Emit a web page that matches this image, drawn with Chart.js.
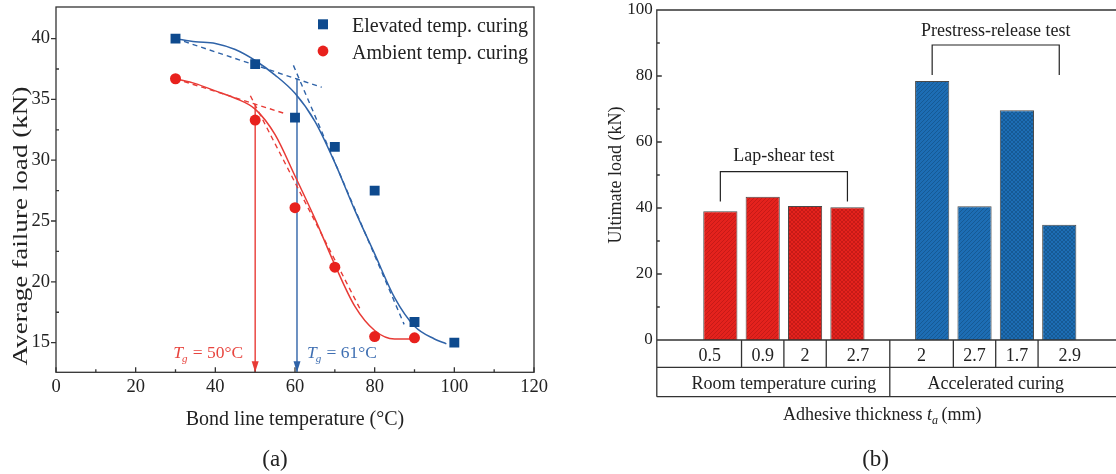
<!DOCTYPE html>
<html>
<head>
<meta charset="utf-8">
<script src="https://cdn.jsdelivr.net/npm/chart.js@4/dist/chart.umd.min.js"></script>
<style>
html,body{margin:0;padding:0;background:#fff;}
body{width:1116px;height:474px;overflow:hidden;position:relative;}
#ca{position:absolute;left:0;top:0;}
#cb{position:absolute;left:560px;top:0;}
</style>
</head>
<body>
<canvas id="ca" width="560" height="474"></canvas>
<canvas id="cb" width="580" height="474"></canvas>
<script>
// ---------- Panel (a) data ----------
const tempElev = [30, 50, 60, 70, 80, 90, 100];
const loadElev = [40.0, 37.9, 33.5, 31.1, 27.5, 16.7, 15.0];
const tempAmb = [30, 50, 60, 70, 80, 90];
const loadAmb = [36.7, 33.3, 26.1, 21.2, 15.5, 15.4];
const fitElevT = [30, 35, 40, 45, 50, 55, 60, 65, 70, 75, 80, 85, 90, 95, 98];
const fitElevV = [40.0, 39.75, 39.6, 39.1, 38.2, 37.0, 35.5, 33.2, 29.8, 25.9, 22.3, 18.7, 16.35, 15.3, 14.9];
const fitAmbT = [30, 35, 40, 45, 50, 55, 60, 65, 70, 75, 80, 85, 90];
const fitAmbV = [36.7, 36.3, 35.7, 35.1, 34.2, 32.1, 28.7, 25.2, 21.4, 18.0, 16.0, 15.3, 15.3];
const tanElev1T = [30, 66.7], tanElev1V = [40.0, 36.0];
const tanElev2T = [59.6, 87.4], tanElev2V = [37.8, 16.5];
const tanAmb1T = [30, 57.8], tanAmb1V = [36.7, 33.8];
const tanAmb2T = [48.8, 76.6], tanAmb2V = [35.3, 17.6];
const tgTemps = [50, 60.5];
const tgTop = [34.6, 36.7];
const tgLabels = ['50', '61'];
const xTicksA = [0, 20, 40, 60, 80, 100, 120];
const yTicksA = [15, 20, 25, 30, 35, 40];
const xRangeA = [0, 120];
const yRangeA = [12.56, 42.6];
const legendA = ['Elevated temp. curing', 'Ambient temp. curing'];

// ---------- Panel (b) data ----------
const groupNames = ['Room temperature curing', 'Accelerated curing'];
const thickRoom = ['0.5', '0.9', '2', '2.7'];
const loadRoom = [39.0, 43.4, 40.6, 40.2];
const hatchRoom = ['diag', 'diag', 'cross', 'cross'];
const thickAcc = ['2', '2.7', '1.7', '2.9'];
const loadAcc = [78.5, 40.5, 69.6, 34.9];
const hatchAcc = ['diag', 'diag', 'cross', 'cross'];
const yTicksB = [0, 20, 40, 60, 80, 100];
const bracketNames = ['Lap-shear test', 'Prestress-release test'];
const bracketLevel = [51, 89.4];
const bracketLeg = [42, 80.3];
const bracketTextLevel = [56, 94];

const SERIF = "'Liberation Serif','Times New Roman',serif";
const BLUE_PT = '#0e4a8e', BLUE_LN = '#2f63a8', RED_PT = '#e8211d', RED_LN = '#e83b36';
const AX = '#333';

function xy(xs, ys) { return xs.map((v, i) => ({x: v, y: ys[i]})); }

// ================= Panel (a) =================
const decoA = {
  id: 'decoA',
  afterDraw(chart) {
    const {ctx, chartArea: a, scales: {x, y}} = chart;
    ctx.save();
    ctx.strokeStyle = AX; ctx.lineWidth = 1.3;
    ctx.strokeRect(a.left, a.top, a.right - a.left, a.bottom - a.top);
    ctx.beginPath();
    xTicksA.forEach((v, i) => {
      const px = x.getPixelForValue(v);
      ctx.moveTo(px, a.bottom); ctx.lineTo(px, a.bottom - 5);
      if (i < xTicksA.length - 1) {
        const pm = x.getPixelForValue((v + xTicksA[i + 1]) / 2);
        ctx.moveTo(pm, a.bottom); ctx.lineTo(pm, a.bottom - 3);
      }
    });
    yTicksA.forEach((v, i) => {
      const py = y.getPixelForValue(v);
      ctx.moveTo(a.left, py); ctx.lineTo(a.left - 5, py);
      if (i < yTicksA.length - 1) {
        const pm = y.getPixelForValue((v + yTicksA[i + 1]) / 2);
        ctx.moveTo(a.left, pm); ctx.lineTo(a.left + 3, pm);
      }
    });
    ctx.stroke();

    // arrowheads + Tg labels
    const cols = [RED_LN, BLUE_LN];
    const txtCols = ['#e8453f', '#3f6fb2'];
    tgTemps.forEach((t, i) => {
      const px = x.getPixelForValue(t);
      ctx.fillStyle = cols[i];
      ctx.beginPath();
      ctx.moveTo(px, a.bottom);
      ctx.lineTo(px - 3.5, a.bottom - 11);
      ctx.lineTo(px + 3.5, a.bottom - 11);
      ctx.closePath(); ctx.fill();
      const base = 358.3;
      ctx.fillStyle = txtCols[i];
      ctx.textBaseline = 'alphabetic'; ctx.textAlign = 'left';
      const fT = 'italic 17.5px ' + SERIF, fS = 'italic 11px ' + SERIF, fN = '17.5px ' + SERIF;
      const rest = ' = ' + tgLabels[i] + '\u00B0C';
      ctx.font = fT; const wT = ctx.measureText('T').width;
      ctx.font = fS; const wS = ctx.measureText('g').width;
      ctx.font = fN; const wR = ctx.measureText(rest).width;
      const total = wT + wS + wR;
      let sx = i === 0 ? px - 12 - total : px + 10;
      ctx.font = fT; ctx.fillText('T', sx, base); sx += wT - 1;
      ctx.font = fS; ctx.fillText('g', sx, base + 4); sx += wS + 1;
      ctx.font = fN; ctx.fillText(rest, sx, base);
    });

    // legend
    ctx.fillStyle = BLUE_PT;
    ctx.fillRect(318, 19.3, 10, 10);
    ctx.fillStyle = RED_PT;
    ctx.beginPath(); ctx.arc(323, 51, 5.4, 0, Math.PI * 2); ctx.fill();
    ctx.fillStyle = '#222';
    ctx.font = '20px ' + SERIF; ctx.textAlign = 'left'; ctx.textBaseline = 'alphabetic';
    ctx.fillText(legendA[0], 352, 32.3);
    ctx.fillText(legendA[1], 352, 58.5);

    // x title
    ctx.textAlign = 'center';
    ctx.fillText('Bond line temperature (\u00B0C)', (a.left + a.right) / 2, 424.5);

    // y title
    ctx.save();
    ctx.translate(27, 226);
    ctx.rotate(-Math.PI / 2);
    ctx.font = '22px ' + SERIF;
    const yt = 'Average failure load (kN)';
    const w = ctx.measureText(yt).width;
    ctx.scale(279 / w, 1);
    ctx.textAlign = 'center';
    ctx.fillText(yt, 0, 0);
    ctx.restore();

    // caption
    ctx.font = '23px ' + SERIF; ctx.textAlign = 'center';
    ctx.fillText('(a)', 275, 466);
    ctx.restore();
  }
};

const dashA = [5, 4];
new Chart(document.getElementById('ca'), {
  type: 'scatter',
  data: {
    datasets: [
      {label: legendA[0], data: xy(tempElev, loadElev), pointStyle: 'rect', pointRadius: 7, backgroundColor: BLUE_PT, borderWidth: 0, showLine: false},
      {label: legendA[1], data: xy(tempAmb, loadAmb), pointStyle: 'circle', pointRadius: 5.5, backgroundColor: RED_PT, borderWidth: 0, showLine: false},
      {data: xy(fitElevT, fitElevV), showLine: true, pointRadius: 0, borderColor: BLUE_LN, borderWidth: 1.5, cubicInterpolationMode: 'monotone'},
      {data: xy(fitAmbT, fitAmbV), showLine: true, pointRadius: 0, borderColor: RED_LN, borderWidth: 1.5, cubicInterpolationMode: 'monotone'},
      {data: xy(tanElev1T, tanElev1V), showLine: true, pointRadius: 0, borderColor: BLUE_LN, borderWidth: 1.4, borderDash: dashA},
      {data: xy(tanElev2T, tanElev2V), showLine: true, pointRadius: 0, borderColor: BLUE_LN, borderWidth: 1.4, borderDash: dashA},
      {data: xy(tanAmb1T, tanAmb1V), showLine: true, pointRadius: 0, borderColor: RED_LN, borderWidth: 1.4, borderDash: dashA},
      {data: xy(tanAmb2T, tanAmb2V), showLine: true, pointRadius: 0, borderColor: RED_LN, borderWidth: 1.4, borderDash: dashA},
      {data: [{x: tgTemps[0], y: tgTop[0]}, {x: tgTemps[0], y: yRangeA[0]}], showLine: true, pointRadius: 0, borderColor: RED_LN, borderWidth: 1.4},
      {data: [{x: tgTemps[1], y: tgTop[1]}, {x: tgTemps[1], y: yRangeA[0]}], showLine: true, pointRadius: 0, borderColor: BLUE_LN, borderWidth: 1.4}
    ]
  },
  options: {
    responsive: false, animation: false, events: [],
    plugins: {legend: {display: false}, tooltip: {enabled: false}},
    layout: {padding: {left: 0, right: 26, top: 6, bottom: 0}},
    scales: {
      x: {
        type: 'linear', min: xRangeA[0], max: xRangeA[1],
        afterBuildTicks: s => { s.ticks = xTicksA.map(v => ({value: v})); },
        ticks: {font: {family: SERIF, size: 18.5}, color: '#222', padding: 4, maxRotation: 0},
        grid: {display: false, drawTicks: false}, border: {display: false},
        afterFit: s => { s.height = 101.7; s.paddingLeft = 0; s.paddingRight = 0; }
      },
      y: {
        type: 'linear', min: yRangeA[0], max: yRangeA[1],
        afterBuildTicks: s => { s.ticks = yTicksA.map(v => ({value: v})); },
        ticks: {font: {family: SERIF, size: 18.5}, color: '#222', padding: 6},
        grid: {display: false, drawTicks: false}, border: {display: false},
        afterFit: s => { s.width = 56; s.paddingTop = 0; s.paddingBottom = 0; }
      }
    }
  },
  plugins: [decoA]
});

// ================= Panel (b) =================
const cb = document.getElementById('cb');
const cbx = cb.getContext('2d');
function hatch(base, line, cross) {
  const s = 4, c = document.createElement('canvas');
  c.width = s; c.height = s;
  const g = c.getContext('2d');
  g.fillStyle = base; g.fillRect(0, 0, s, s);
  g.strokeStyle = line; g.lineWidth = 0.9;
  g.beginPath();
  g.moveTo(-1, s + 1); g.lineTo(s + 1, -1);
  g.moveTo(-1, 1); g.lineTo(1, -1);
  g.moveTo(s - 1, s + 1); g.lineTo(s + 1, s - 1);
  if (cross) {
    g.moveTo(-1, -1); g.lineTo(s + 1, s + 1);
    g.moveTo(s - 1, -1); g.lineTo(s + 1, 1);
    g.moveTo(-1, s - 1); g.lineTo(1, s + 1);
  }
  g.stroke();
  return cbx.createPattern(c, 'repeat');
}
const RED_BASE = '#e4221d', RED_HATCH = '#c21a16', BLUE_BASE = '#1d6db4', BLUE_HATCH = '#155892';

const nRoom = thickRoom.length, nAcc = thickAcc.length;
const posRoom = thickRoom.map((_, i) => i + 1);
const posAcc = thickAcc.map((_, i) => nRoom + 2 + i);
const xMaxB = nRoom + nAcc + 2;

const decoB = {
  id: 'decoB',
  afterDraw(chart) {
    const {ctx, chartArea: a, scales: {x, y}} = chart;
    const W = chart.width;
    const rowY = [a.bottom, 367.3, 396.7];
    ctx.save();
    ctx.strokeStyle = AX; ctx.lineWidth = 1.3;
    ctx.beginPath();
    ctx.moveTo(a.left, rowY[2]); ctx.lineTo(a.left, a.top); ctx.lineTo(W, a.top);
    rowY.forEach(yy => { ctx.moveTo(a.left, yy); ctx.lineTo(W, yy); });
    yTicksB.forEach((v, i) => {
      const py = y.getPixelForValue(v);
      ctx.moveTo(a.left, py); ctx.lineTo(a.left + 5, py);
      if (i < yTicksB.length - 1) {
        const pm = y.getPixelForValue((v + yTicksB[i + 1]) / 2);
        ctx.moveTo(a.left, pm); ctx.lineTo(a.left + 3, pm);
      }
    });
    const bounds = [];
    const cells = [];
    const groups = [posRoom, posAcc];
    const groupEdges = [[0, nRoom + 1], [nRoom + 1, xMaxB]];
    groups.forEach((ps, g) => {
      const edges = [groupEdges[g][0]];
      for (let i = 0; i < ps.length - 1; i++) edges.push((ps[i] + ps[i + 1]) / 2);
      edges.push(groupEdges[g][1]);
      for (let i = 0; i < ps.length; i++) cells.push([edges[i], edges[i + 1]]);
      edges.slice(1, -1).forEach(e => bounds.push(e));
    });
    bounds.forEach(b => { const px = x.getPixelForValue(b); ctx.moveTo(px, rowY[0]); ctx.lineTo(px, rowY[1]); });
    const gx = x.getPixelForValue(groupEdges[0][1]);
    ctx.moveTo(gx, rowY[0]); ctx.lineTo(gx, rowY[2]);
    ctx.stroke();

    ctx.fillStyle = '#222';
    ctx.font = '18px ' + SERIF; ctx.textAlign = 'center'; ctx.textBaseline = 'alphabetic';
    const labs = thickRoom.concat(thickAcc);
    cells.forEach((c, i) => {
      ctx.fillText(labs[i], (x.getPixelForValue(c[0]) + x.getPixelForValue(c[1])) / 2, 360.7);
    });
    groupEdges.forEach((e, g) => {
      ctx.fillText(groupNames[g], (x.getPixelForValue(e[0]) + x.getPixelForValue(e[1])) / 2, 389.3);
    });

    ctx.strokeStyle = '#222'; ctx.lineWidth = 1.2;
    groups.forEach((ps, g) => {
      const x1 = x.getPixelForValue(ps[0]), x2 = x.getPixelForValue(ps[ps.length - 1]);
      const yl = y.getPixelForValue(bracketLevel[g]), yg = y.getPixelForValue(bracketLeg[g]);
      ctx.beginPath();
      ctx.moveTo(x1, yg); ctx.lineTo(x1, yl); ctx.lineTo(x2, yl); ctx.lineTo(x2, yg);
      ctx.stroke();
      ctx.font = '18px ' + SERIF;
      ctx.fillText(bracketNames[g], (x1 + x2) / 2, y.getPixelForValue(bracketTextLevel[g]) + 6);
    });

    const p1 = 'Adhesive thickness ', p2 = 't', p3 = 'a', p4 = '\u2009(mm)';
    const f1 = '18px ' + SERIF, f2 = 'italic 18px ' + SERIF, f3 = 'italic 12px ' + SERIF;
    ctx.font = f1; const w1 = ctx.measureText(p1).width, w4 = ctx.measureText(p4).width;
    ctx.font = f2; const w2 = ctx.measureText(p2).width;
    ctx.font = f3; const w3 = ctx.measureText(p3).width;
    const tot = w1 + w2 + w3 + w4;
    let sx = (a.left + x.getPixelForValue(xMaxB)) / 2 - tot / 2 + 3;
    ctx.textAlign = 'left';
    const bl = 419.5;
    ctx.font = f1; ctx.fillText(p1, sx, bl); sx += w1;
    ctx.font = f2; ctx.fillText(p2, sx, bl); sx += w2;
    ctx.font = f3; ctx.fillText(p3, sx, bl + 4); sx += w3;
    ctx.font = f1; ctx.fillText(p4, sx, bl);

    ctx.save();
    ctx.translate(60.5, (a.top + a.bottom) / 2);
    ctx.rotate(-Math.PI / 2);
    ctx.font = '18px ' + SERIF; ctx.textAlign = 'center';
    ctx.fillText('Ultimate load (kN)', 0, 0);
    ctx.restore();

    ctx.font = '23px ' + SERIF; ctx.textAlign = 'center';
    ctx.fillText('(b)', 315.6, 466);
    ctx.restore();
  }
};

const barCommon = {grouped: false, categoryPercentage: 1, barPercentage: 0.807, borderColor: '#4a4a4a', borderWidth: 1};
new Chart(cb, {
  type: 'bar',
  data: {
    datasets: [
      Object.assign({label: groupNames[0], data: xy(posRoom, loadRoom),
        backgroundColor: hatchRoom.map(h => hatch(RED_BASE, RED_HATCH, h === 'cross'))}, barCommon),
      Object.assign({label: groupNames[1], data: xy(posAcc, loadAcc),
        backgroundColor: hatchAcc.map(h => hatch(BLUE_BASE, BLUE_HATCH, h === 'cross'))}, barCommon)
    ]
  },
  options: {
    responsive: false, animation: false, events: [],
    plugins: {legend: {display: false}, tooltip: {enabled: false}},
    layout: {padding: {left: 0, right: 17.2, top: 10, bottom: 134}},
    scales: {
      x: {type: 'linear', min: 0, max: xMaxB, display: false},
      y: {
        type: 'linear', min: 0, max: 100,
        afterBuildTicks: s => { s.ticks = yTicksB.map(v => ({value: v})); },
        ticks: {font: {family: SERIF, size: 17}, color: '#222', padding: 4},
        grid: {display: false, drawTicks: false}, border: {display: false},
        afterFit: s => { s.width = 96.8; s.paddingTop = 0; s.paddingBottom = 0; }
      }
    }
  },
  plugins: [decoB]
});
</script>
</body>
</html>
